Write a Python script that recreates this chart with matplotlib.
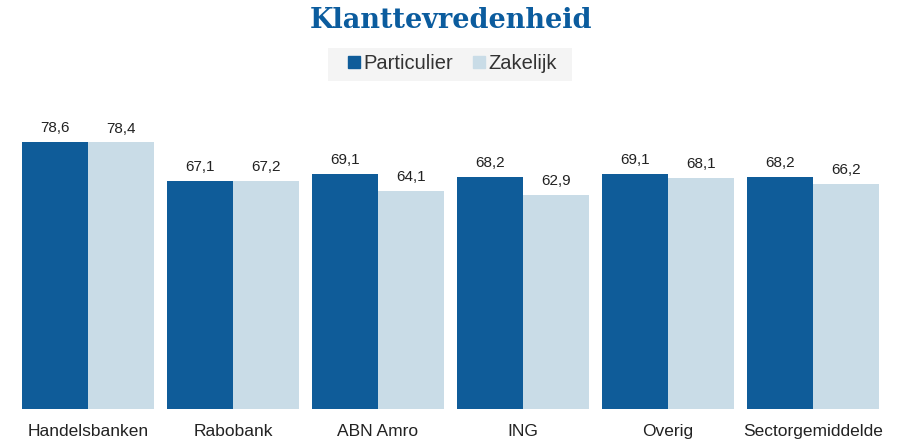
import numpy as np
import matplotlib.pyplot as plt
from matplotlib.lines import Line2D
from matplotlib.patches import Rectangle

# data
banks = ['Handelsbanken', 'Rabobank', 'ABN Amro', 'ING', 'Overig', 'Sectorgemiddelde']
particulier = [78.6, 67.1, 69.1, 68.2, 69.1, 68.2]
zakelijk = [78.4, 67.2, 64.1, 62.9, 68.1, 66.2]
series_names = ['Particulier', 'Zakelijk']

dark = '#0f5c99'
light = '#c9dce7'
text_col = '#222222'

plt.rcParams['font.family'] = ['Liberation Sans', 'DejaVu Sans']

fig = plt.figure(figsize=(9, 4.47), dpi=100)
ax = fig.add_axes([22 / 900, 38 / 447, 857 / 900, 309 / 447])

x = np.arange(len(banks))
w = 66 / 145

b1 = ax.bar(x - w / 2, particulier, w, color=dark)
b2 = ax.bar(x + w / 2, zakelijk, w, color=light)

for bars, vals in [(b1, particulier), (b2, zakelijk)]:
    for bar, v in zip(bars, vals):
        ax.annotate(f'{v:.1f}'.replace('.', ','),
                    (bar.get_x() + bar.get_width() / 2, v),
                    xytext=(0, 5), textcoords='offset points',
                    ha='center', va='bottom', fontsize=11, color=text_col)

ax.set_xlim(-w, len(banks) - 1 + w)
ax.set_ylim(0, 90.9)
ax.set_yticks([])
ax.set_xticks(x)
ax.set_xticklabels(banks, fontsize=12.5, color=text_col)
ax.tick_params(axis='x', length=0, pad=11)
for s in ax.spines.values():
    s.set_visible(False)

fig.text(0.501, 0.955, 'Klanttevredenheid', ha='center', va='center',
         fontsize=19.5, fontweight='bold', family='DejaVu Serif', color='#0b5c9e')

# light grey box behind the legend
fig.patches.append(Rectangle((328 / 900, 1 - 81 / 447), 244 / 900, 33 / 447,
                             transform=fig.transFigure, facecolor='#f4f4f4',
                             edgecolor='none', zorder=0))

handles = [Line2D([], [], marker='s', linestyle='', color=c, markersize=8)
           for c in [dark, light]]
leg = fig.legend(handles, series_names, loc='center', bbox_to_anchor=(0.502, 0.857),
                 ncol=2, frameon=False, fontsize=14.5, handlelength=0.7,
                 handletextpad=0.15, columnspacing=0.9)
for t in leg.get_texts():
    t.set_color('#333333')

fig.savefig('out.png', dpi=100)
